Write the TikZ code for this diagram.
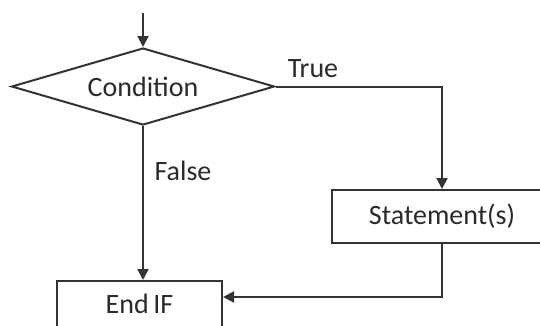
\documentclass[tikz,border=0pt]{standalone}
\usepackage{fontspec}
\setmainfont{Carlito}
\usetikzlibrary{shapes.geometric,arrows.meta}
\definecolor{ink}{HTML}{333333}
\definecolor{txt}{HTML}{2A2A2A}
\tikzset{
  conn/.style={draw=ink, line width=2pt},
  arr/.style={conn, -{Triangle[length=11pt,width=11pt]}},
  decision/.style={shape=diamond, draw=ink, line width=2pt, aspect=3.4, minimum width=263pt, minimum height=77pt, inner sep=0pt, text=txt, font=\fontsize{28}{31}\selectfont},
  procbox/.style={shape=rectangle, draw=ink, line width=2pt, inner sep=0pt, text=txt, font=\fontsize{28}{31}\selectfont},
  lbl/.style={text=txt, font=\fontsize{28}{31}\selectfont, inner sep=0pt}
}
\begin{document}
\begin{tikzpicture}[x=1pt,y=-1pt]
\useasboundingbox (0,0) rectangle (540,325);
\clip (0,0) rectangle (540,325);
\coordinate (start) at (143,13);
\node[decision] (cond) at (143,86.5) {Condition};
\node[procbox, minimum width=220pt, minimum height=53pt] (stmt) at (442,216.5) {Statement(s)};
\node[procbox, minimum width=165pt, minimum height=46pt] (endif) at (139.5,304) {End\,IF};
\coordinate (corner) at (442,297);
\node[lbl] (true) at (313,69) {True};
\node[lbl] (false) at (183,171) {False};
\draw[arr] (start) -- (cond.north);
\draw[arr] (cond.east) -| (stmt.north);
\draw[arr] (cond.south) -- (cond.south |- endif.north);
\draw[arr] (stmt.south) -- (corner) -- (corner -| endif.east);
\end{tikzpicture}
\end{document}
